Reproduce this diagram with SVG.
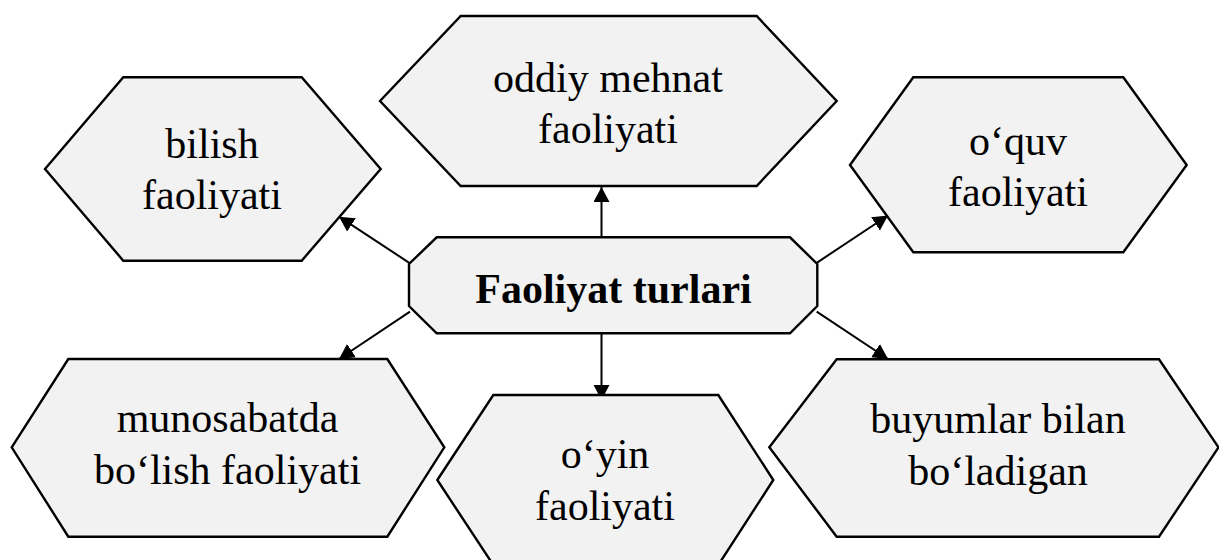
<svg xmlns="http://www.w3.org/2000/svg" width="1219" height="560" viewBox="0 0 1219 560">
<style>
.shape{fill:#f2f2f2;stroke:#000;stroke-width:2.4;stroke-linejoin:miter}
.lbl{font-family:"Liberation Serif","Times New Roman",serif;font-size:42px;fill:#000;text-anchor:middle}
.bold{font-weight:bold}
.conn{stroke:#000;stroke-width:2;fill:none;marker-end:url(#arr)}
</style>
<defs>
<marker id="arr" markerUnits="userSpaceOnUse" markerWidth="18" markerHeight="18" refX="15" refY="8" orient="auto">
<path d="M0,0 L15,8 L0,16 z" fill="#000"/>
</marker>
</defs>
<rect width="1219" height="560" fill="#fff"/>
<g id="connectors">
<line class="conn" x1="601.5" y1="237" x2="601.5" y2="187"/>
<line class="conn" x1="410" y1="263.3" x2="339" y2="216.7"/>
<line class="conn" x1="816" y1="263.3" x2="888" y2="215.5"/>
<line class="conn" x1="410" y1="311.7" x2="339" y2="359"/>
<line class="conn" x1="816.7" y1="311.7" x2="888" y2="359"/>
<line class="conn" x1="601.5" y1="334" x2="601.5" y2="400"/>
</g>
<g id="node-top">
<polygon class="shape" points="380,101 460.7,16 756.7,16 836.7,101 756.7,186 460.7,186"/>
<text class="lbl" x="608" y="91.5">oddiy mehnat</text>
<text class="lbl" x="608" y="142.5">faoliyati</text>
</g>
<g id="node-bilish">
<polygon class="shape" points="45,169 123.3,77.3 301.7,77.3 380.7,169 301.7,260.7 123.3,260.7"/>
<text class="lbl" x="212" y="158.3">bilish</text>
<text class="lbl" x="212" y="209">faoliyati</text>
</g>
<g id="node-oquv">
<polygon class="shape" points="850,165 913.3,77.3 1123.3,77.3 1186.7,165 1123.3,252.3 913.3,252.3"/>
<text class="lbl" x="1018" y="155">o‘quv</text>
<text class="lbl" x="1018" y="205.7">faoliyati</text>
</g>
<g id="node-center">
<polygon class="shape" points="436.7,237.3 790,237.3 817.3,264 817.3,306 790,333.3 436.7,333.3 409,306 409,264"/>
<text class="lbl bold" x="613.5" y="303.3">Faoliyat turlari</text>
</g>
<g id="node-munosabat">
<polygon class="shape" points="11.7,447.3 68.3,359 387.3,359 444.3,447.3 387.3,536.7 68.3,536.7"/>
<text class="lbl" x="227.5" y="432.3">munosabatda</text>
<text class="lbl" x="227.5" y="484">bo‘lish faoliyati</text>
</g>
<g id="node-oyin">
<polygon class="shape" points="437.3,480 493.3,395 718.3,395 773.3,480 718.3,565 493.3,565"/>
<text class="lbl" x="605" y="468.3">o‘yin</text>
<text class="lbl" x="605" y="520">faoliyati</text>
</g>
<g id="node-buyum">
<polygon class="shape" points="769.3,447.3 836.7,359.3 1159,359.3 1218.5,447.3 1159,536.7 836.7,536.7"/>
<text class="lbl" x="998" y="433.3">buyumlar bilan</text>
<text class="lbl" x="998" y="485">bo‘ladigan</text>
</g>
</svg>
